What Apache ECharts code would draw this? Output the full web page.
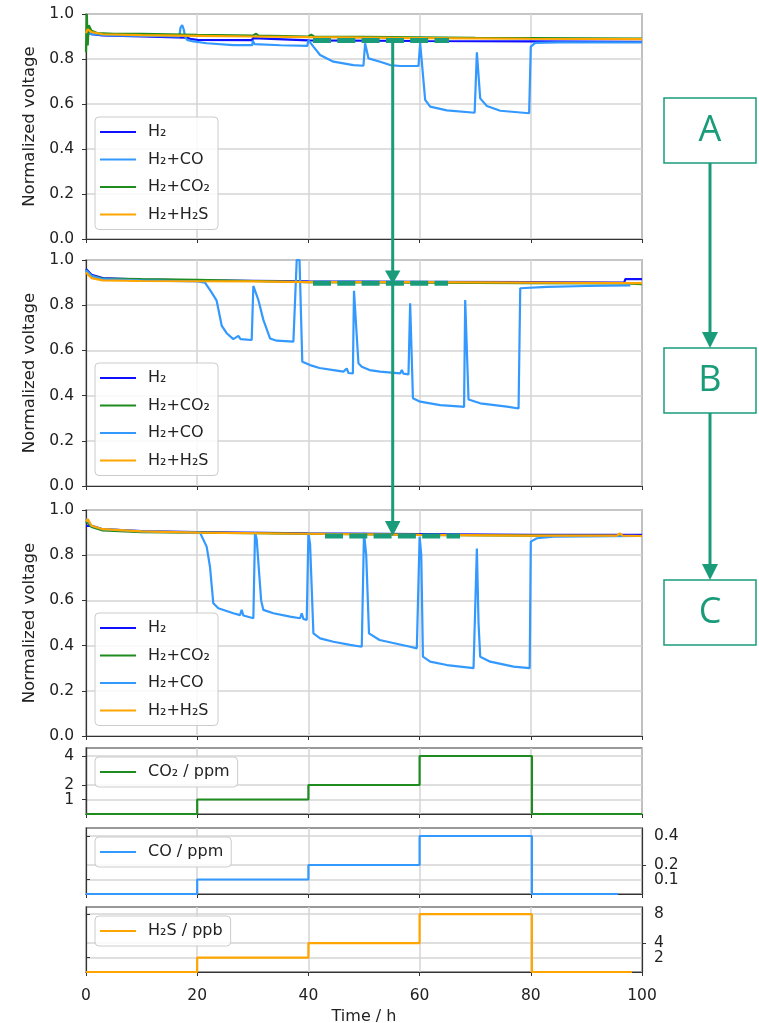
<!DOCTYPE html>
<html>
<head>
<meta charset="utf-8">
<script src="https://cdn.jsdelivr.net/npm/echarts@6.0.0/dist/echarts.min.js"></script>
<style>
html,body{margin:0;padding:0;background:#fff;}
#chart{width:759px;height:1023px;}
</style>
</head>
<body>
<div id="chart"></div>
<script>
// ---------- DATA (time in h, value) ----------
const xTicks = [0, 20, 40, 60, 80, 100];

// Panel A
const a_H2 = [[0,0.92],[1,0.91],[3,0.905],[10,0.9],[18,0.895],[19,0.888],[20,0.885],[29.9,0.884],[30,0.893],[30.3,0.885],[40,0.883],[60,0.88],[80,0.878],[100,0.876]];
const a_CO = [[0,0.92],[1,0.91],[5,0.905],[16.8,0.9],[17,0.94],[17.3,0.951],[17.6,0.93],[17.8,0.9],[18.2,0.885],[19.3,0.878],[21.7,0.87],[26.5,0.862],[29.9,0.862],[30,0.882],[30.3,0.866],[35,0.861],[39.8,0.858],[40,0.884],[40.9,0.855],[42.1,0.818],[44.5,0.788],[48.1,0.773],[49.9,0.77],[50.2,0.87],[50.8,0.803],[52.9,0.788],[54.7,0.773],[56.5,0.769],[59.8,0.769],[60.1,0.871],[61,0.618],[61.9,0.588],[64.9,0.572],[69.9,0.561],[70.3,0.83],[70.9,0.625],[72.1,0.591],[74.5,0.57],[79.7,0.559],[80,0.855],[80.8,0.872],[85,0.874],[100,0.874]];
const a_CO2 = [[0,0.83],[0.15,1.0],[0.3,0.86],[0.5,0.95],[1,0.925],[2,0.915],[5,0.912],[10,0.912],[20,0.907],[30,0.904],[30.6,0.912],[31,0.904],[40,0.9],[40.5,0.908],[41,0.9],[50,0.898],[60,0.896],[70,0.894],[80,0.893],[90,0.892],[100,0.891]];
const a_H2S = [[0,0.915],[0.3,0.932],[1,0.92],[3,0.91],[10,0.906],[20,0.903],[30,0.9],[40,0.897],[50,0.895],[60,0.893],[80,0.89],[100,0.888]];

// Panel B
const b_H2 = [[0,0.96],[1,0.935],[3,0.92],[10,0.913],[20,0.91],[30,0.908],[40,0.905],[60,0.903],[80,0.902],[96.8,0.9],[97,0.915],[100,0.915]];
const b_CO2 = [[0,0.955],[1,0.93],[3,0.918],[10,0.915],[20,0.912],[30,0.907],[40,0.902],[60,0.9],[80,0.898],[97,0.896],[100,0.893]];
const b_CO = [[0,0.955],[1,0.93],[3,0.915],[10,0.91],[20,0.905],[21.4,0.9],[22.5,0.86],[23.5,0.82],[24.4,0.71],[25.3,0.676],[26.5,0.65],[27.4,0.664],[27.8,0.65],[29.8,0.646],[30.1,0.885],[31,0.823],[31.9,0.735],[33.1,0.653],[34.3,0.643],[37.3,0.639],[37.6,0.64],[37.9,1.0],[38.4,1.0],[38.9,0.55],[40.3,0.535],[42,0.522],[44.5,0.513],[46.3,0.506],[46.9,0.52],[47.2,0.5],[48,0.498],[48.2,0.864],[49,0.543],[49.6,0.528],[51,0.513],[52.9,0.506],[56.5,0.498],[56.8,0.513],[57.1,0.497],[58,0.494],[58.3,0.808],[58.8,0.388],[60.1,0.373],[63.7,0.358],[67.6,0.351],[68,0.35],[68.2,0.823],[68.8,0.383],[70.9,0.366],[75.7,0.351],[77.8,0.343],[78.1,0.875],[82.9,0.881],[90,0.885],[97.9,0.888]];
const b_H2S = [[0,0.945],[1,0.92],[3,0.91],[10,0.907],[20,0.906],[30,0.905],[40,0.902],[60,0.902],[80,0.9],[100,0.898]];

// Panel C
const c_H2 = [[0,0.93],[1,0.93],[3,0.915],[10,0.907],[20,0.902],[40,0.897],[60,0.893],[80,0.89],[100,0.89]];
const c_CO2 = [[0,0.95],[1,0.925],[3,0.91],[10,0.902],[20,0.9],[40,0.895],[60,0.89],[80,0.887],[98,0.885],[100,0.885]];
const c_CO = [[0,0.96],[1,0.93],[3,0.915],[10,0.905],[20,0.9],[20.5,0.9],[21.7,0.838],[22.3,0.749],[22.9,0.587],[23.8,0.565],[26.5,0.543],[27.7,0.535],[28,0.558],[28.3,0.533],[30.1,0.521],[30.4,0.9],[30.7,0.87],[31.5,0.6],[31.9,0.558],[33.7,0.543],[36.7,0.528],[38.5,0.521],[38.8,0.543],[39.1,0.518],[39.7,0.513],[40,0.9],[40.3,0.85],[40.9,0.454],[42.1,0.432],[44.5,0.417],[47.5,0.403],[49.6,0.395],[50,0.9],[50.4,0.8],[50.9,0.454],[52.8,0.425],[58.3,0.395],[59.5,0.388],[60,0.882],[60.3,0.8],[60.6,0.351],[61.9,0.329],[64.9,0.314],[69.7,0.3],[70.3,0.83],[70.6,0.5],[70.9,0.351],[72.7,0.329],[76.9,0.307],[79.8,0.3],[80,0.86],[81.1,0.875],[84.1,0.882],[100,0.885]];
const c_H2S = [[0,0.95],[0.3,0.96],[1,0.93],[3,0.915],[10,0.905],[20,0.9],[40,0.895],[60,0.89],[80,0.887],[95.5,0.887],[96,0.897],[96.5,0.887],[100,0.885]];

// Impurity dosing (step profiles)
const dose_CO2 = [[0,0],[20,1],[40,2],[60,4],[80.2,0],[100,0]];
const dose_CO  = [[0,0],[20,0.1],[40,0.2],[60,0.4],[80.2,0],[95.7,0]];
const dose_H2S = [[0,0],[20,2],[40,4],[60,8],[80.2,0],[98.2,0]];

const ticksCO2 = [1, 2, 4];
const ticksCO  = [0.1, 0.2, 0.4];
const ticksH2S = [2, 4, 8];

const N_H2 = 'H₂', N_CO = 'H₂+CO', N_CO2 = 'H₂+CO₂', N_H2S = 'H₂+H₂S';
const legendA = [N_H2, N_CO, N_CO2, N_H2S];
const legendBC = [N_H2, N_CO2, N_CO, N_H2S];

// ---------- STYLE ----------
const C_H2 = '#1010ff', C_CO = '#3399ff', C_CO2 = '#1f8c1f', C_H2S = '#ffa500';
const TEAL = '#1a9c7a';
const FONT = 'DejaVu Sans';
const AX = '#333';
const GRIDC = '#d4d4d4';
const TICKFS = 15.5;

const grids = [
  {left:86, width:556, top:14,  height:225},
  {left:86, width:556, top:260, height:226},
  {left:86, width:556, top:510, height:226},
  {left:86, width:556, top:748, height:66},
  {left:86, width:556, top:828, height:66},
  {left:86, width:556, top:907, height:65}
].map(g => Object.assign(g, {show:true, borderColor:AX, borderWidth:1.2, backgroundColor:'#fff',
  containLabel:false, outerBoundsMode:'none'}));

const xAxes = grids.map((g, i) => ({
  type:'value', gridIndex:i, min:0, max:100, interval:20,
  axisLine:{show:true, lineStyle:{color:AX, width:1.2}},
  axisTick:{show:true, inside:false, length:4, lineStyle:{color:AX}},
  axisLabel:{show:i===5, margin:16, fontFamily:FONT, fontSize:TICKFS, color:'#222'},
  splitLine:{show:true, lineStyle:{color:GRIDC, width:1.5}},
  name: i===5 ? 'Time / h' : '', nameLocation:'middle', nameGap:37,
  nameTextStyle:{fontFamily:FONT, fontSize:16, color:'#222'}
}));

function voltAxis(i){
  return {
    type:'value', gridIndex:i, min:0, max:1, interval:0.2,
    axisLine:{show:true, lineStyle:{color:AX, width:1.2}},
    axisTick:{show:true, inside:false, length:4, lineStyle:{color:AX}},
    axisLabel:{margin:12, fontFamily:FONT, fontSize:TICKFS, color:'#222', formatter:v=>v.toFixed(1)},
    splitLine:{show:true, lineStyle:{color:GRIDC, width:1.5}},
    name:'Normalized voltage', nameLocation:'middle', nameGap:45,
    nameTextStyle:{fontFamily:FONT, fontSize:16.5, color:'#222'}
  };
}
// Two overlaid axes per dose panel so that closely spaced tick labels are not auto-hidden.
function doseAxis(i, max, ticks, pos){
  return {
    type:'value', gridIndex:i, min:0, max:max, position:pos, offset:0,
    axisLine:{show:true, lineStyle:{color:AX, width:1.2}},
    axisTick:{show:true, inside:false, length:4, lineStyle:{color:AX}, customValues:ticks},
    axisLabel:{margin:12, fontFamily:FONT, fontSize:TICKFS, color:'#222', customValues:ticks,
      hideOverlap:false, formatter:v=>String(v)},
    splitLine:{show:true, lineStyle:{color:GRIDC, width:1.5}}
  };
}
function doseAxes(i, max, ticks, pos){
  return [doseAxis(i, max, ticks.filter((v,k)=>k!==1), pos), doseAxis(i, max, [ticks[1]], pos)];
}
const yAxes = [voltAxis(0), voltAxis(1), voltAxis(2),
  ...doseAxes(3, 4.55, ticksCO2, 'left'),
  ...doseAxes(4, 0.455, ticksCO, 'right'),
  ...doseAxes(5, 9.0, ticksH2S, 'right')];

function ln(name, data, color, gi, yi, extra){
  return Object.assign({
    type:'line', name, data, xAxisIndex:gi, yAxisIndex:yi,
    symbol:'none', showSymbol:false, animation:false, z:3,
    lineStyle:{width:2.2, color}, itemStyle:{color}
  }, extra || {});
}

const series = [
  ln(N_H2, a_H2, C_H2, 0, 0), ln(N_CO, a_CO, C_CO, 0, 0), ln(N_CO2, a_CO2, C_CO2, 0, 0), ln(N_H2S, a_H2S, C_H2S, 0, 0),
  ln(N_H2, b_H2, C_H2, 1, 1), ln(N_CO2, b_CO2, C_CO2, 1, 1), ln(N_CO, b_CO, C_CO, 1, 1), ln(N_H2S, b_H2S, C_H2S, 1, 1),
  ln(N_H2, c_H2, C_H2, 2, 2), ln(N_CO2, c_CO2, C_CO2, 2, 2), ln(N_CO, c_CO, C_CO, 2, 2), ln(N_H2S, c_H2S, C_H2S, 2, 2),
  ln('CO₂ / ppm', dose_CO2, C_CO2, 3, 3, {step:'end'}),
  ln('CO / ppm', dose_CO, C_CO, 4, 5, {step:'end'}),
  ln('H₂S / ppb', dose_H2S, C_H2S, 5, 7, {step:'end'})
];

function lg(data, top){
  return {
    data, left:95, top, orient:'vertical',
    icon:'rect', itemWidth:36, itemHeight:2, itemGap:9.5,
    padding:[6,8,6,5],
    backgroundColor:'rgba(255,255,255,0.85)', borderColor:'#cccccc', borderWidth:1, borderRadius:4,
    textStyle:{fontFamily:FONT, fontSize:16, color:'#222', lineHeight:18, padding:[0,0,0,7]},
    selectedMode:false
  };
}
const legends = [lg(legendA,117), lg(legendBC,363), lg(legendBC,613),
  lg(['CO₂ / ppm'],757), lg(['CO / ppm'],837), lg(['H₂S / ppb'],916)];

// ---------- ANNOTATIONS ----------
function dash(x1,x2,y){return {type:'line', z:100, shape:{x1,y1:y,x2,y2:y}, style:{stroke:TEAL, lineWidth:5, lineDash:[18,6.3]}};}
function vline(x,y1,y2){return {type:'line', z:100, shape:{x1:x,y1,x2:x,y2}, style:{stroke:TEAL, lineWidth:3}};}
function head(x,tip,w,h){return {type:'polygon', z:101, shape:{points:[[x-w/2,tip-h],[x+w/2,tip-h],[x,tip]]}, style:{fill:TEAL}};}
function box(y,label){
  return [
    {type:'rect', z:100, shape:{x:664,y,width:92,height:65}, style:{fill:'#fff', stroke:TEAL, lineWidth:1.5}},
    {type:'text', z:101, x:710, y:y+32.5, style:{text:label, fill:TEAL, fontSize:36, fontFamily:'Open Sans', align:'center', verticalAlign:'middle'}}
  ];
}
const graphic = [
  dash(313,449,40.6), dash(313,448,283.3), dash(325,460,536),
  vline(392.7,40,530), head(392.7,284,15.5,13.5), head(392.7,536,15.5,15),
  ...box(98,'A'), ...box(348,'B'), ...box(580,'C'),
  vline(710,163,336), head(710,348,16,16),
  vline(710,413,568), head(710,580,16,16)
];

const chart = echarts.init(document.getElementById('chart'), null, {renderer:'canvas'});
chart.setOption({
  animation:false,
  backgroundColor:'#fff',
  grid:grids, xAxis:xAxes, yAxis:yAxes, series, legend:legends, graphic
});
</script>
</body>
</html>
